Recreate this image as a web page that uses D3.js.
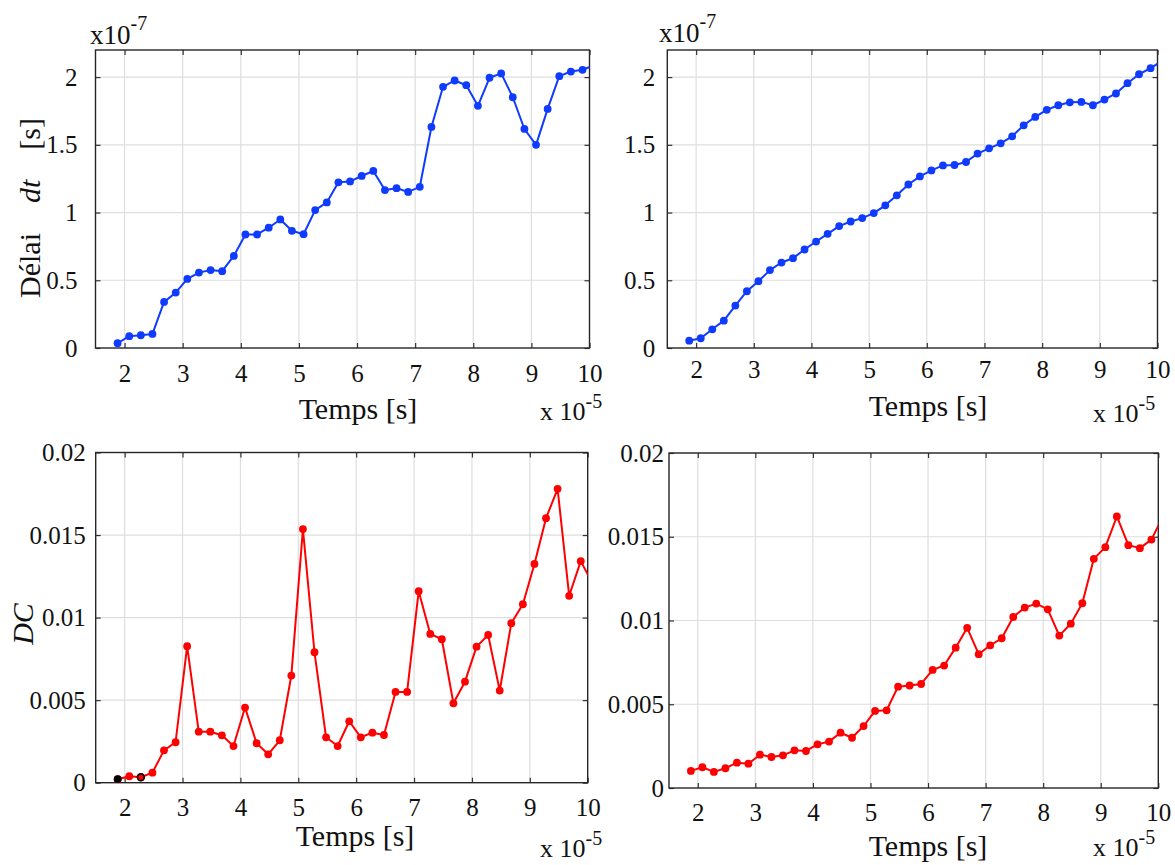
<!DOCTYPE html>
<html>
<head>
<meta charset="utf-8">
<script src="https://cdn.jsdelivr.net/npm/d3@7"></script>
<style>
  html, body { margin: 0; padding: 0; background: #fff; }
  svg { display: block; }
  svg text { font-family: "Liberation Serif", "Times New Roman", serif !important; fill: #111; }
</style>
</head>
<body>
<svg id="chart" width="1175" height="865"></svg>
<script>
// ---------- data (time in units of 1e-5 s) ----------
const timeX = [1.88, 2.08, 2.28, 2.48, 2.68, 2.88, 3.08, 3.28, 3.48, 3.68, 3.88,
  4.08, 4.28, 4.48, 4.68, 4.88, 5.08, 5.28, 5.48, 5.68, 5.88, 6.08, 6.28, 6.48,
  6.68, 6.88, 7.08, 7.28, 7.48, 7.68, 7.88, 8.08, 8.28, 8.48, 8.68, 8.88, 9.08,
  9.28, 9.48, 9.68, 9.88, 10.08];

// Délai dt (units of 1e-7 s), left column
const delaiLeft = [0.035, 0.087, 0.094, 0.104, 0.34, 0.409, 0.51, 0.557, 0.575, 0.567, 0.68,
  0.838, 0.838, 0.888, 0.949, 0.865, 0.84, 1.018, 1.075, 1.223, 1.23, 1.27, 1.307, 1.166,
  1.18, 1.152, 1.19, 1.632, 1.928, 1.975, 1.94, 1.788, 1.995, 2.027, 1.851, 1.617, 1.5,
  1.765, 2.007, 2.041, 2.054, 2.088];

// Délai dt (units of 1e-7 s), right column
const delaiRight = [0.054, 0.072, 0.138, 0.202, 0.313, 0.419, 0.493, 0.575, 0.631, 0.663, 0.727,
  0.786, 0.843, 0.9, 0.934, 0.959, 0.996, 1.053, 1.127, 1.207, 1.267, 1.311, 1.348, 1.351,
  1.373, 1.435, 1.474, 1.511, 1.563, 1.644, 1.706, 1.758, 1.792, 1.814, 1.817, 1.792, 1.834,
  1.879, 1.955, 2.021, 2.066, 2.12];

// DC, left column
const dcLeft = [0.00021, 0.00039, 0.00033, 0.00061, 0.00196, 0.00245, 0.00827, 0.00309, 0.00309,
  0.00287, 0.00222, 0.00455, 0.00239, 0.00172, 0.00257, 0.00649, 0.01536, 0.0079, 0.00275,
  0.00222, 0.00372, 0.00275, 0.00303, 0.00289, 0.0055, 0.0055, 0.0116, 0.00901, 0.00869,
  0.00481, 0.00612, 0.00824, 0.00895, 0.00558, 0.00966, 0.01081, 0.01325, 0.01602, 0.0178,
  0.01132, 0.01342, 0.0121];

// DC, right column
const dcRight = [0.00102, 0.00124, 0.00096, 0.00118, 0.00151, 0.00145, 0.00199, 0.00185, 0.00195,
  0.00225, 0.00221, 0.00261, 0.00277, 0.0033, 0.003, 0.0037, 0.0046, 0.00464, 0.00605,
  0.00612, 0.00621, 0.00705, 0.00731, 0.00838, 0.00956, 0.00799, 0.00852, 0.00894, 0.01021,
  0.01077, 0.01101, 0.01067, 0.0091, 0.00981, 0.01103, 0.01368, 0.01438, 0.01621, 0.0145,
  0.01432, 0.01483, 0.0162];

// highlighted points in the lower-left panel (indices into dcLeft)
const dcLeftBlackFilled = [0];
const dcLeftBlackRing = [2];

// tick values
const xTicks = [2, 3, 4, 5, 6, 7, 8, 9, 10];
const xDomain = [1.5, 10];
const delaiTicks = [0, 0.5, 1, 1.5, 2];
const delaiDomain = [0, 2.2];
const dcTicks = [0, 0.005, 0.01, 0.015, 0.02];
const dcDomain = [0, 0.02];

// ---------- drawing ----------
const SERIF = '"Liberation Serif", "Times New Roman", serif';
const svg = d3.select("#chart").attr("font-family", SERIF);
const BLUE = "#0f3bff", RED = "#ff0000";
const TICK_FS = 25, LABEL_FS = 30;

const panels = [
  { id: "tl", box: [95.5, 50, 589.5, 348], yDomain: delaiDomain, yTicks: delaiTicks, vals: delaiLeft, color: BLUE,
    yLabelGap: 18, xLabelDy: 28, xTitle: [358, 419], expX: [540, 420], yExp: [90, 44], yTitle: "delai", yTitlePos: [40, 208] },
  { id: "tr", box: [667.3, 50, 1157.5, 348], yDomain: delaiDomain, yTicks: delaiTicks, vals: delaiRight, color: BLUE,
    yLabelGap: 12, xLabelDy: 24, xTitle: [928, 416], expX: [1093, 422], yExp: [659, 42] },
  { id: "bl", box: [95.7, 452.5, 587.7, 782.7], yDomain: dcDomain, yTicks: dcTicks, vals: dcLeft, color: RED,
    yLabelGap: 10, xLabelDy: 28, xTitle: [355, 846], expX: [540, 857], yTitle: "dc", yTitlePos: [33, 624] },
  { id: "br", box: [669, 453, 1158.3, 788], yDomain: dcDomain, yTicks: dcTicks, vals: dcRight, color: RED,
    yLabelGap: 5, xLabelDy: 27, xTitle: [928, 856], expX: [1093, 856] }
];

panels.forEach(p => {
  const [x0, y0, x1, y1] = p.box;
  const x = d3.scaleLinear().domain(xDomain).range([x0, x1]);
  const y = d3.scaleLinear().domain(p.yDomain).range([y1, y0]);
  const g = svg.append("g");

  // grid
  g.append("g").selectAll("line").data(xTicks.filter(t => t < xDomain[1])).join("line")
    .attr("x1", d => x(d)).attr("x2", d => x(d)).attr("y1", y0).attr("y2", y1)
    .attr("stroke", "#dedede").attr("stroke-width", 1.2);
  g.append("g").selectAll("line").data(p.yTicks.filter(t => t > p.yDomain[0])).join("line")
    .attr("x1", x0).attr("x2", x1).attr("y1", d => y(d)).attr("y2", d => y(d))
    .attr("stroke", "#dedede").attr("stroke-width", 1.2);

  // axes (ticks inward, labels outside)
  const xAxisB = d3.axisBottom(x).tickValues(xTicks).tickSize(-5).tickPadding(p.xLabelDy - 12).tickFormat(d3.format("d"));
  const xAxisT = d3.axisTop(x).tickValues(xTicks).tickSize(-5).tickFormat("");
  const yAxisL = d3.axisLeft(y).tickValues(p.yTicks).tickSize(-5).tickPadding(p.yLabelGap).tickFormat(d => String(d));
  const yAxisR = d3.axisRight(y).tickValues(p.yTicks).tickSize(-5).tickFormat("");

  const styleAxis = sel => {
    sel.attr("font-family", SERIF).attr("font-size", TICK_FS);
    sel.select(".domain").remove();
    sel.selectAll(".tick line").attr("stroke", "#333").attr("stroke-width", 1.2);
    sel.selectAll(".tick text").attr("font-size", TICK_FS).attr("fill", "#111")
      .attr("font-family", SERIF);
  };
  g.append("g").attr("transform", `translate(0,${y1})`).call(xAxisB).call(styleAxis)
    .selectAll(".tick text").attr("dy", "0.71em");
  g.append("g").attr("transform", `translate(0,${y0})`).call(xAxisT).call(styleAxis);
  g.append("g").attr("transform", `translate(${x0},0)`).call(yAxisL).call(styleAxis);
  g.append("g").attr("transform", `translate(${x1},0)`).call(yAxisR).call(styleAxis);

  // frame
  g.append("rect").attr("x", x0).attr("y", y0).attr("width", x1 - x0).attr("height", y1 - y0)
    .attr("fill", "none").attr("stroke", "#262626").attr("stroke-width", 1.4);

  // clip
  const clipId = "clip-" + p.id;
  svg.append("clipPath").attr("id", clipId).append("rect")
    .attr("x", x0).attr("y", y0).attr("width", x1 - x0).attr("height", y1 - y0);
  const plot = g.append("g").attr("clip-path", `url(#${clipId})`);

  const pts = timeX.map((t, i) => ({ t, v: p.vals[i], i }));
  plot.append("path").datum(pts)
    .attr("d", d3.line().x(d => x(d.t)).y(d => y(d.v)))
    .attr("fill", "none").attr("stroke", p.color).attr("stroke-width", 2).attr("stroke-linejoin", "round");
  plot.append("g").selectAll("circle").data(pts).join("circle")
    .attr("cx", d => x(d.t)).attr("cy", d => y(d.v)).attr("r", 3.9).attr("fill", p.color);

  if (p.id === "bl") {
    plot.append("g").selectAll("circle").data(dcLeftBlackFilled.map(i => pts[i])).join("circle")
      .attr("cx", d => x(d.t)).attr("cy", d => y(d.v)).attr("r", 3.9).attr("fill", "#000");
    plot.append("g").selectAll("circle").data(dcLeftBlackRing.map(i => pts[i])).join("circle")
      .attr("cx", d => x(d.t)).attr("cy", d => y(d.v)).attr("r", 3.4).attr("fill", RED)
      .attr("stroke", "#000").attr("stroke-width", 1.6);
  }

  // x title
  svg.append("text").attr("x", p.xTitle[0]).attr("y", p.xTitle[1]).attr("text-anchor", "middle")
    .attr("font-size", LABEL_FS).text("Temps [s]");

  // x exponent "x 10^-5"
  const ex = svg.append("text").attr("x", p.expX[0]).attr("y", p.expX[1]).attr("font-size", 26);
  ex.append("tspan").text("x 10");
  ex.append("tspan").attr("dy", -12).attr("font-size", 20).text("-5");

  // y exponent "x10^-7"
  if (p.yExp) {
    const ey = svg.append("text").attr("x", p.yExp[0]).attr("y", p.yExp[1]).attr("font-size", 27);
    ey.append("tspan").text("x10");
    ey.append("tspan").attr("dy", -14).attr("font-size", 20).text("-7");
  }

  // y titles
  if (p.yTitle === "delai") {
    const t = svg.append("text").attr("transform", `translate(${p.yTitlePos[0]},${p.yTitlePos[1]}) rotate(-90)`)
      .attr("text-anchor", "middle").attr("font-size", LABEL_FS);
    t.append("tspan").text("Délai\u00a0\u00a0\u00a0\u00a0");
    t.append("tspan").attr("font-style", "italic").text("dt");
    t.append("tspan").text("\u00a0\u00a0\u00a0\u00a0[s]");
  } else if (p.yTitle === "dc") {
    svg.append("text").attr("transform", `translate(${p.yTitlePos[0]},${p.yTitlePos[1]}) rotate(-90)`)
      .attr("text-anchor", "middle").attr("font-size", LABEL_FS).attr("font-style", "italic").text("DC");
  }
});
</script>
</body>
</html>
